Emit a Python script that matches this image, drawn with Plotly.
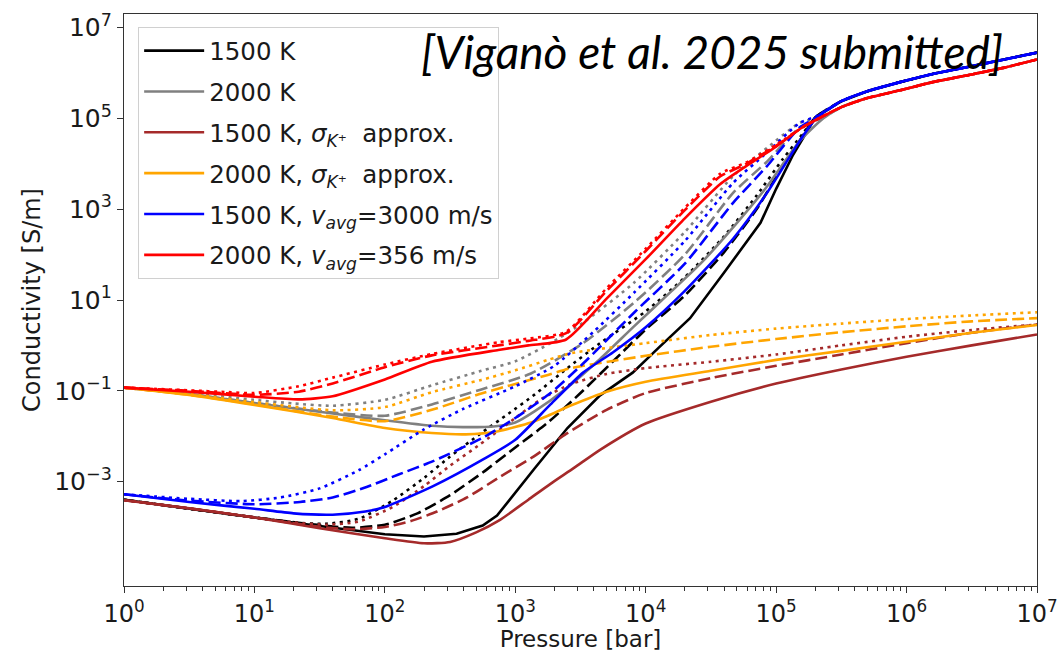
import plotly.graph_objects as go

# Sample points: log10(pressure / bar) and log10(conductivity / (S/m))
# Shared high-pressure branch (P > ~3e5 bar) where the models converge
p_tail = [5.5, 5.7, 5.95, 6.2, 6.5, 6.75, 7.0]
s_tail_1500 = [5.38, 5.6, 5.8, 5.98, 6.15, 6.3, 6.45]
s_tail_2000 = [5.25, 5.45, 5.62, 5.8, 5.97, 6.12, 6.3]

# 1500 K
p_black_solid = [0, 0.5, 1.0, 1.5, 2.0, 2.3, 2.55, 2.75, 2.86, 3.14, 3.4, 3.65, 3.9, 4.1, 4.34, 4.6, 4.88, 5.0, 5.13, 5.3]
s_black_solid = [-3.40, -3.60, -3.79, -3.98, -4.16, -4.21, -4.15, -3.97, -3.75, -2.74, -1.82, -1.1, -0.6, -0.05, 0.6, 1.6, 2.7, 3.45, 4.2, 5.02]
p_black_dash = [0, 0.5, 1.0, 1.5, 1.75, 2.0, 2.25, 2.5, 2.75, 3.0, 3.25, 3.5, 3.75, 4.0, 4.3, 4.6, 4.85, 5.05, 5.2, 5.3]
s_black_dash = [-3.40, -3.60, -3.79, -3.96, -4.02, -3.95, -3.7, -3.3, -2.8, -2.25, -1.7, -1.05, -0.35, 0.35, 1.1, 2.05, 3.0, 3.95, 4.6, 5.02]
p_black_dot = [0, 0.5, 1.0, 1.3, 1.55, 1.8, 2.06, 2.3, 2.5, 2.73, 2.95, 3.15, 3.4, 3.65, 4.0, 4.3, 4.6, 4.85, 5.05, 5.2, 5.3]
s_black_dot = [-3.40, -3.60, -3.79, -3.9, -3.93, -3.82, -3.42, -2.92, -2.45, -1.95, -1.5, -1.08, -0.5, 0.05, 0.75, 1.5, 2.4, 3.3, 4.1, 4.65, 5.02]

# 2000 K
p_gray_solid = [0, 0.5, 1.0, 1.6, 2.0, 2.36, 2.6, 2.85, 3.0, 3.15, 3.39, 3.65, 3.91, 4.2, 4.42, 4.67, 4.93, 5.18, 5.36]
s_gray_solid = [-0.93, -1.07, -1.27, -1.5, -1.65, -1.77, -1.8, -1.78, -1.7, -1.45, -0.95, -0.3, 0.42, 1.2, 1.8, 2.6, 3.5, 4.5, 5.0]
p_gray_dash = [0, 0.5, 1.0, 1.6, 2.0, 2.36, 2.74, 3.12, 3.52, 3.91, 4.3, 4.67, 4.93, 5.18, 5.36]
s_gray_dash = [-0.93, -1.07, -1.27, -1.48, -1.55, -1.3, -0.97, -0.62, 0.05, 0.94, 2.0, 3.36, 4.05, 4.8, 5.02]
p_gray_dot = [0, 0.5, 1.0, 1.3, 1.6, 2.0, 2.36, 2.74, 3.0, 3.27, 3.52, 3.91, 4.3, 4.67, 4.93, 5.18, 5.36]
s_gray_dot = [-0.93, -1.05, -1.2, -1.28, -1.33, -1.2, -0.88, -0.56, -0.35, 0.05, 0.5, 1.38, 2.5, 3.73, 4.35, 4.9, 5.05]

# 1500 K, sigma_K+ approximation
p_brown_solid = [0, 0.5, 1.0, 1.5, 2.0, 2.3, 2.5, 2.7, 2.88, 3.1, 3.27, 3.45, 3.65, 4.0, 4.5, 5.0, 5.5, 6.0, 6.5, 7.0]
s_brown_solid = [-3.41, -3.59, -3.79, -4.03, -4.25, -4.36, -4.33, -4.12, -3.85, -3.4, -3.05, -2.7, -2.3, -1.72, -1.24, -0.84, -0.53, -0.25, 0.0, 0.24]
p_brown_dash = [0, 0.5, 1.0, 1.5, 1.75, 2.0, 2.2, 2.4, 2.63, 2.88, 3.14, 3.39, 3.7, 4.0, 4.5, 5.0, 5.5, 6.0, 6.5, 7.0]
s_brown_dash = [-3.41, -3.59, -3.79, -4.0, -4.05, -4.0, -3.87, -3.66, -3.35, -2.9, -2.45, -1.95, -1.42, -1.05, -0.72, -0.45, -0.2, 0.05, 0.28, 0.46]
p_brown_dot = [0, 0.5, 1.0, 1.3, 1.55, 1.8, 2.06, 2.3, 2.5, 2.73, 3.0, 3.2, 3.43, 3.7, 4.0, 4.5, 5.0, 5.5, 6.0, 6.5, 7.0]
s_brown_dot = [-3.41, -3.59, -3.79, -3.9, -3.95, -3.88, -3.56, -3.1, -2.65, -2.18, -1.6, -1.18, -0.85, -0.63, -0.5, -0.36, -0.2, 0.0, 0.19, 0.34, 0.46]

# 2000 K, sigma_K+ approximation
p_orange_solid = [0, 0.5, 1.0, 1.6, 2.0, 2.36, 2.62, 2.87, 3.12, 3.25, 3.43, 3.7, 4.0, 4.5, 5.0, 5.5, 6.0, 6.5, 7.0]
s_orange_solid = [-0.93, -1.09, -1.31, -1.6, -1.82, -1.93, -1.96, -1.89, -1.7, -1.55, -1.32, -1.02, -0.8, -0.56, -0.32, -0.12, 0.08, 0.28, 0.45]
p_orange_dash = [0, 0.5, 1.0, 1.6, 2.0, 2.36, 2.74, 3.0, 3.25, 3.43, 4.0, 4.5, 5.0, 5.5, 6.0, 6.5, 7.0]
s_orange_dash = [-0.93, -1.09, -1.3, -1.57, -1.67, -1.42, -1.06, -0.85, -0.65, -0.5, -0.23, -0.03, 0.14, 0.29, 0.42, 0.53, 0.6]
p_orange_dot = [0, 0.5, 1.0, 1.6, 2.0, 2.36, 2.74, 3.0, 3.25, 3.43, 4.0, 4.5, 5.0, 5.5, 6.0, 6.5, 7.0]
s_orange_dot = [-0.93, -1.07, -1.25, -1.43, -1.36, -1.03, -0.76, -0.55, -0.32, -0.17, 0.05, 0.23, 0.37, 0.48, 0.58, 0.66, 0.73]

# 1500 K, v_avg = 3000 m/s
p_blue_solid = [0, 0.5, 1.0, 1.3, 1.6, 1.85, 2.0, 2.37, 2.76, 3.0, 3.27, 3.52, 3.75, 4.0, 4.3, 4.67, 4.93, 5.18, 5.31]
s_blue_solid = [-3.28, -3.45, -3.6, -3.7, -3.73, -3.66, -3.56, -3.1, -2.5, -2.08, -1.3, -0.6, -0.15, 0.4, 1.2, 2.35, 3.36, 4.5, 5.02]
p_blue_dash = [0, 0.5, 1.0, 1.35, 1.6, 1.86, 2.1, 2.37, 2.76, 3.0, 3.27, 3.52, 3.91, 4.3, 4.67, 4.93, 5.18, 5.31]
s_blue_dash = [-3.28, -3.42, -3.5, -3.45, -3.35, -3.12, -2.85, -2.55, -2.02, -1.6, -1.05, -0.4, 0.72, 1.8, 3.14, 3.95, 4.8, 5.02]
p_blue_dot = [0, 0.5, 0.9, 1.2, 1.5, 1.8, 2.0, 2.3, 2.6, 3.0, 3.3, 3.6, 3.91, 4.3, 4.67, 4.93, 5.18, 5.31]
s_blue_dot = [-3.28, -3.38, -3.43, -3.35, -3.15, -2.75, -2.4, -1.85, -1.4, -0.9, -0.45, 0.3, 1.16, 2.3, 3.58, 4.25, 4.9, 5.05]

# 2000 K, v_avg = 356 m/s
p_red_solid = [0, 0.5, 1.0, 1.34, 1.6, 2.0, 2.36, 2.87, 3.1, 3.39, 3.7, 4.0, 4.3, 4.57, 4.77, 5.0, 5.2, 5.36]
s_red_solid = [-0.93, -1.02, -1.13, -1.19, -1.12, -0.75, -0.36, -0.1, 0.0, 0.13, 1.03, 1.9, 2.8, 3.55, 3.95, 4.38, 4.8, 5.05]
p_red_dash = [0, 0.5, 1.0, 1.34, 1.6, 2.0, 2.36, 2.87, 3.1, 3.39, 3.7, 4.0, 4.3, 4.57, 4.77, 5.0, 5.2, 5.36]
s_red_dash = [-0.93, -1.0, -1.09, -1.02, -0.84, -0.48, -0.22, 0.0, 0.1, 0.27, 1.2, 2.08, 2.98, 3.72, 4.0, 4.4, 4.8, 5.05]
p_red_dot = [0, 0.5, 0.8, 1.0, 1.34, 1.6, 2.0, 2.36, 2.87, 3.1, 3.39, 3.7, 4.0, 4.3, 4.57, 4.77, 5.0, 5.2, 5.36]
s_red_dot = [-0.93, -0.99, -1.03, -1.05, -0.9, -0.71, -0.42, -0.19, 0.07, 0.15, 0.3, 1.26, 2.13, 3.03, 3.78, 4.03, 4.42, 4.8, 5.05]

legend_names = [
    "1500 K",
    "2000 K",
    "1500 K, <i>σ</i><sub><i>K</i>⁺</sub>  approx.",
    "2000 K, <i>σ</i><sub><i>K</i>⁺</sub>  approx.",
    "1500 K, <i>v</i><sub><i>avg</i></sub>=3000 m/s",
    "2000 K, <i>v</i><sub><i>avg</i></sub>=356 m/s",
]
colors = ["#000000", "#808080", "#a52a2a", "#ffa500", "#0000ff", "#ff0000"]

x_tick_exp = [0, 1, 2, 3, 4, 5, 6, 7]
y_tick_exp = [-3, -1, 1, 3, 5, 7]

DASH = "12px,5px"
DOT = "3px,4.5px"
LW = 2.6

series = [
    # (group index, dash style, logP, logS, high-pressure tail)
    (0, "solid", p_black_solid, s_black_solid, s_tail_1500),
    (0, DASH, p_black_dash, s_black_dash, s_tail_1500),
    (0, DOT, p_black_dot, s_black_dot, s_tail_1500),
    (1, "solid", p_gray_solid, s_gray_solid, s_tail_2000),
    (1, DASH, p_gray_dash, s_gray_dash, s_tail_2000),
    (1, DOT, p_gray_dot, s_gray_dot, s_tail_2000),
    (2, "solid", p_brown_solid, s_brown_solid, None),
    (2, DASH, p_brown_dash, s_brown_dash, None),
    (2, DOT, p_brown_dot, s_brown_dot, None),
    (3, "solid", p_orange_solid, s_orange_solid, None),
    (3, DASH, p_orange_dash, s_orange_dash, None),
    (3, DOT, p_orange_dot, s_orange_dot, None),
    (4, "solid", p_blue_solid, s_blue_solid, s_tail_1500),
    (4, DASH, p_blue_dash, s_blue_dash, s_tail_1500),
    (4, DOT, p_blue_dot, s_blue_dot, s_tail_1500),
    (5, "solid", p_red_solid, s_red_solid, s_tail_2000),
    (5, DASH, p_red_dash, s_red_dash, s_tail_2000),
    (5, DOT, p_red_dot, s_red_dot, s_tail_2000),
]

fig = go.Figure()
for g, style, lp, ls, tail in series:
    xs = list(lp)
    ys = list(ls)
    if tail is not None:
        xs += p_tail
        ys += tail
    fig.add_trace(go.Scatter(
        x=[10 ** v for v in xs],
        y=[10 ** v for v in ys],
        mode="lines",
        name=legend_names[g],
        legendgroup=f"g{g}",
        showlegend=(style == "solid"),
        line=dict(color=colors[g], width=LW, dash=style,
                  shape="linear" if g == 0 and style == "solid" else "spline",
                  smoothing=0.6),
        hoverinfo="skip",
    ))

font_main = "DejaVu Sans, Verdana, sans-serif"
minor_x = [k * 10 ** n for n in range(0, 7) for k in range(2, 10)]

fig.update_layout(
    width=1060, height=652,
    margin=dict(l=124, r=23, t=14, b=66),
    paper_bgcolor="white", plot_bgcolor="white",
    font=dict(family=font_main, size=24, color="#1a1a1a"),
    showlegend=True,
    legend=dict(
        x=0.0155, y=0.977, xanchor="left", yanchor="top",
        bgcolor="rgba(255,255,255,0.85)", bordercolor="#d0d0d0", borderwidth=1,
        font=dict(family=font_main, size=24.5, color="#1a1a1a"),
        traceorder="grouped", tracegroupgap=6, itemwidth=60,
    ),
    xaxis=dict(
        type="log", range=[0, 7], automargin=False,
        tickvals=[10 ** e for e in x_tick_exp],
        ticktext=[f"10<sup>{e}</sup>" for e in x_tick_exp],
        ticks="outside", ticklen=6, tickwidth=1.2, tickcolor="#333",
        minor=dict(tickvals=minor_x, ticks="outside", ticklen=3.5, tickwidth=1, tickcolor="#333"),
        showline=True, linecolor="#333", linewidth=1.3, mirror=True,
        showgrid=False, zeroline=False,
        title=dict(text="Pressure [bar]", font=dict(family=font_main, size=23), standoff=3),
        tickfont=dict(family=font_main, size=24),
    ),
    yaxis=dict(
        type="log", range=[-5.301, 7.301], automargin=False,
        tickvals=[10 ** e for e in y_tick_exp],
        ticktext=[f"10<sup>{str(e).replace('-', '−')}</sup>" for e in y_tick_exp],
        ticks="outside", ticklen=6, tickwidth=1.2, tickcolor="#333",
        showline=True, linecolor="#333", linewidth=1.3, mirror=True,
        showgrid=False, zeroline=False,
        title=dict(text="Conductivity [S/m]", font=dict(family=font_main, size=24), standoff=6),
        tickfont=dict(family=font_main, size=25),
    ),
    annotations=[dict(
        text="<i>[Viganò et al. 2025 submitted]</i>",
        xref="paper", yref="paper", x=0.965, y=0.935,
        xanchor="right", yanchor="middle", showarrow=False,
        font=dict(family="Lato, Open Sans, sans-serif", size=46, color="#000"),
    )],
)

fig.write_html("out.html")
